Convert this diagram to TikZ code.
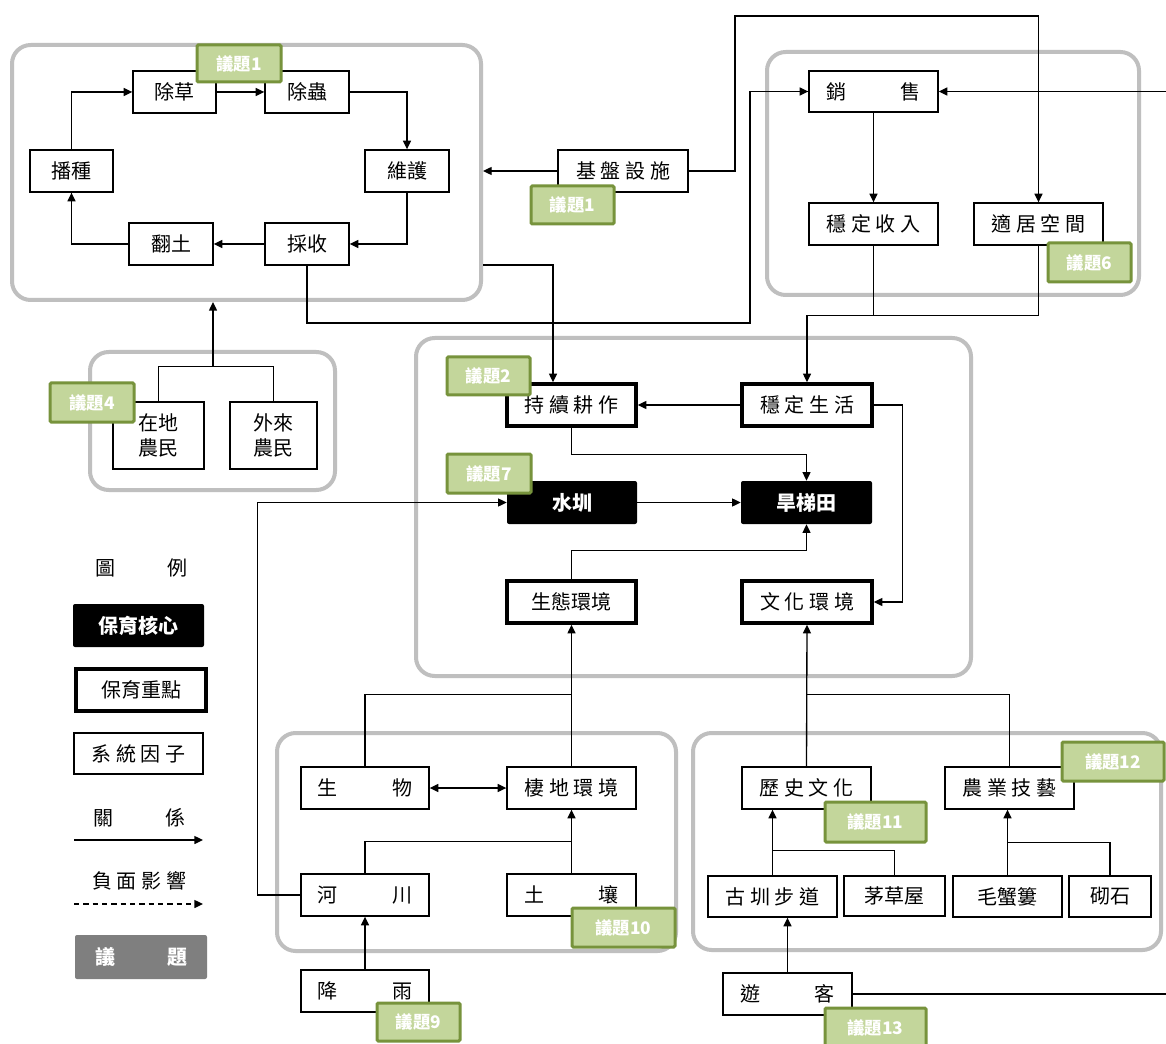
\documentclass[tikz,border=0pt]{standalone}
\usepackage{fontspec}
\setmainfont{Noto Sans CJK TC}
\usetikzlibrary{arrows.meta}
\definecolor{grpgray}{HTML}{BFBFBF}
\definecolor{tagfill}{HTML}{C3D69B}
\definecolor{tagline}{HTML}{77933C}
\definecolor{issuegray}{HTML}{7F7F7F}
\newcommand\lgap{\hspace{3.5pt}}
\newcommand\spreadtwo[3]{\makebox[#1]{#2\hfill #3}}
\newcommand\bx[7]{\node[#1, minimum width={(#4-#2)*0.75pt}, minimum height={(#5-#3)*0.75pt}] (#6) at ({(#2+#4)/2},{(#3+#5)/2}) {#7};}
\tikzset{
  base/.style={rectangle, inner sep=0pt, align=center, font=\fontsize{15}{19}\selectfont},
  sys/.style={base, draw, line width=1pt, fill=white},
  key/.style={base, draw, line width=2.6pt, fill=white},
  core/.style={base, fill=black, rounded corners=1.5pt, text=white, font=\fontsize{15}{19}\selectfont\bfseries},
  issue/.style={base, fill=issuegray, rounded corners=1.5pt, text=white, font=\fontsize{15}{19}\selectfont\bfseries},
  tag/.style={base, draw=tagline, fill=tagfill, line width=2.25pt, rounded corners=1pt, text=white, font=\fontsize{13}{15}\selectfont\bfseries},
  grp/.style={rectangle, draw=grpgray, line width=3pt, rounded corners=14pt},
  conn/.style={line width=1pt, -{Triangle[length=6.5pt,width=6pt]}},
  both/.style={line width=1pt, {Triangle[length=6.5pt,width=6pt]}-{Triangle[length=6.5pt,width=6pt]}},
  plain/.style={line width=1pt},
  thinln/.style={line width=0.6pt}
}
\begin{document}
\begin{tikzpicture}[x=0.75pt,y=-0.75pt]
\clip (0,0) rectangle (1166,1044);
\fill[white] (0,0) rectangle (1166,1044);
% groups
\bx{grp}{12}{45}{481}{300}{g1}{}
\bx{grp}{767}{52}{1139}{295}{g2}{}
\bx{grp}{416}{338}{971}{676}{g3}{}
\bx{grp}{90}{352}{335}{490}{g4}{}
\bx{grp}{277}{733}{676}{951}{g5}{}
\bx{grp}{693}{733}{1161}{950}{g6}{}
% cycle
\bx{sys}{133}{71}{216}{113}{cc}{除草}
\bx{sys}{265}{71}{349}{113}{cb}{除蟲}
\bx{sys}{30}{150}{113}{192}{bz}{播種}
\bx{sys}{365}{150}{449}{192}{whu}{維護}
\bx{sys}{129}{223}{213}{265}{ft}{翻土}
\bx{sys}{265}{223}{349}{265}{cs}{採收}
% top right
\bx{sys}{558}{150}{688}{192}{jp}{基\lgap 盤\lgap 設\lgap 施}
\bx{sys}{809}{71}{938}{112}{xs}{\spreadtwo{71pt}{銷}{售}}
\bx{sys}{809}{203}{938}{245}{wsr}{穩\lgap 定\lgap 收\lgap 入}
\bx{sys}{974}{203}{1103}{245}{sj}{適\lgap 居\lgap 空\lgap 間}
% middle
\bx{key}{507}{384}{636}{426}{sx}{持\lgap 續\lgap 耕\lgap 作}
\bx{key}{742}{384}{872}{426}{wsh}{穩\lgap 定\lgap 生\lgap 活}
\bx{core}{507}{481}{637}{524}{sz}{水圳}
\bx{core}{741}{481}{872}{524}{ht}{旱梯田}
\bx{key}{507}{581}{636}{623}{st}{生態環境}
\bx{key}{742}{581}{872}{623}{whj}{文\lgap 化\lgap 環\lgap 境}
% farmers
\bx{sys}{113}{402}{204}{469}{zd}{在地\\農民}
\bx{sys}{230}{402}{317}{469}{wl}{外來\\農民}
% bottom left
\bx{sys}{301}{767}{429}{809}{sw}{\spreadtwo{71pt}{生}{物}}
\bx{sys}{507}{767}{636}{809}{qd}{棲\lgap 地\lgap 環\lgap 境}
\bx{sys}{301}{874}{429}{916}{hc}{\spreadtwo{71pt}{河}{川}}
\bx{sys}{507}{874}{636}{916}{tr}{\spreadtwo{71pt}{土}{壤}}
\bx{sys}{301}{970}{429}{1012}{jy}{\spreadtwo{71pt}{降}{雨}}
% bottom right
\bx{sys}{742}{767}{871}{809}{ls}{歷\lgap 史\lgap 文\lgap 化}
\bx{sys}{945}{767}{1074}{809}{ny}{農\lgap 業\lgap 技\lgap 藝}
\bx{sys}{708}{876}{837}{917}{gz}{古\lgap 圳\lgap 步\lgap 道}
\bx{sys}{844}{876}{945}{916}{mc}{茅草屋}
\bx{sys}{953}{876}{1062}{917}{mx}{毛蟹簍}
\bx{sys}{1069}{876}{1151}{917}{qs}{砌石}
\bx{sys}{723}{973}{852}{1015}{yk}{\spreadtwo{71pt}{遊}{客}}
% legend
\node[base] (lg0) at (141,568) {\spreadtwo{69pt}{圖}{例}};
\bx{core}{73}{604}{204}{647}{lg1}{保育核心}
\bx{key}{76}{669}{206}{711}{lg2}{保育重點}
\bx{sys}{74}{733}{203}{774}{lg3}{系\lgap 統\lgap 因\lgap 子}
\node[base] (lg4) at (139,818) {\spreadtwo{69pt}{關}{係}};
\node[base] (lg5) at (139,881) {負\lgap 面\lgap 影\lgap 響};
\bx{issue}{75}{935}{207}{979}{lg6}{\spreadtwo{69pt}{議}{題}}
\coordinate (a1s) at (74,840);
\coordinate (a1e) at (203,840);
\coordinate (a2s) at (74,904);
\coordinate (a2e) at (203,904);
\draw[conn] (a1s) -- (a1e);
\draw[conn, dash pattern=on 4pt off 3pt] (a2s) -- (a2e);
% edge coordinates
\coordinate (re1) at (1166,91.5);
\coordinate (re2) at (1166,994);
\coordinate (fj) at (213,367);
% connectors: cycle
\draw[conn] (cc.east) -- (cb.west);
\draw[conn] (cb.east) -| (whu.north);
\draw[conn] (whu.south) |- (cs.east);
\draw[conn] (cs.west) -- (ft.east);
\draw[conn] (ft.west) -| (bz.south);
\draw[conn] (bz.north) |- (cc.west);
% infrastructure
\draw[conn] (jp.west) -- (jp.west -| g1.east);
\draw[conn] (jp.east) -| (735,16) -| (sj.north);
\draw[conn] (cs.south) |- (750,323) |- (xs.west);
\draw[conn] (re1) -- (xs.east);
\draw[conn] (xs.south) -- (wsr.north);
\draw[thinln] (wsr.south) -- ++(0,70);
\draw[conn] (sj.south) -- ++(0,70) -| (wsh.north);
\draw[conn] (g1.east |- 0,265) -| (sx.north -| 553,0);
\draw[conn] (wsh.west) -- (sx.east);
\draw[conn] (sx.south) -- ++(0,27) -| (ht.north);
\draw[conn] (wsh.east) -- ++(29,0) |- (whj.east);
\draw[conn] (sz.east) -- (ht.west);
\draw[conn] (st.north) -- ++(0,-29) -| (ht.south);
\draw[conn] (hc.west) -- ++(-43,0) |- (sz.west);
% farmers
\draw[plain] (zd.north) -- ++(0,-35) -| (wl.north);
\draw[conn] (fj) -- (fj |- g1.south);
% bottom left
\draw[conn] (qd.north) -- (st.south);
\draw[plain] (sw.north) -- ++(0,-72) -| (qd.north);
\draw[both] (sw.east) -- (qd.west);
\draw[plain] (hc.north) -- ++(0,-32) -| (tr.north);
\draw[conn] (tr.north) -- (qd.south);
\draw[conn] (jy.north) -- (hc.south);
% bottom right
\draw[conn] (ls.north) -- (whj.south);
\draw[plain] (ny.north) -- ++(0,-72) -| (ls.north);
\draw[conn] (gz.north) -- (gz.north |- ls.south);
\draw[plain] (mc.north) -- ++(0,-25) -| (gz.north);
\draw[conn] (mx.north) -- (mx.north |- ny.south);
\draw[plain] (qs.north) -- ++(0,-33) -| (mx.north);
\draw[conn] (yk.north) -- (yk.north |- gz.south);
\draw[plain] (yk.east) -- (re2);
% tags
\bx{tag}{197}{45}{281}{82}{t1a}{議題1}
\bx{tag}{531}{186}{614}{224}{t1b}{議題1}
\bx{tag}{1048}{243}{1131}{282}{t6}{議題6}
\bx{tag}{447}{357}{530}{395}{t2}{議題2}
\bx{tag}{447}{454}{531}{493}{t7}{議題7}
\bx{tag}{50}{383}{134}{422}{t4}{議題4}
\bx{tag}{572}{908}{675}{947}{t10}{議題10}
\bx{tag}{377}{1003}{460}{1041}{t9}{議題9}
\bx{tag}{825}{802}{926}{842}{t11}{議題11}
\bx{tag}{1062}{742}{1164}{781}{t12}{議題12}
\bx{tag}{825}{1008}{926}{1048}{t13}{議題13}
\end{tikzpicture}
\end{document}
